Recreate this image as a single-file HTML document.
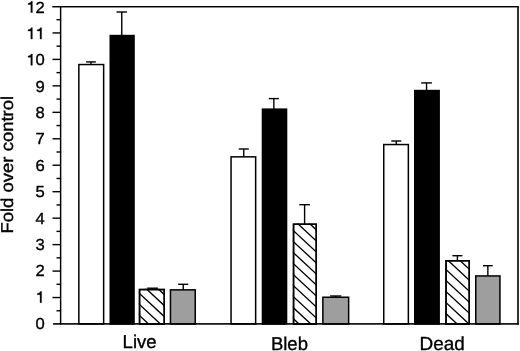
<!DOCTYPE html>
<html><head><meta charset="utf-8"><style>
html,body{margin:0;padding:0;background:#fff;}
body{width:520px;height:351px;overflow:hidden;}
svg{display:block;filter:grayscale(1);}
text{font-family:"Liberation Sans", sans-serif;text-rendering:geometricPrecision;}
</style></head><body>
<svg width="520" height="351" viewBox="0 0 520 351">
<rect width="520" height="351" fill="#fff"/>
<defs>
<clipPath id="c2"><rect x="138.8" y="288.8" width="26.20" height="35.20"/></clipPath>
<clipPath id="c6"><rect x="292.8" y="223.5" width="24.20" height="100.50"/></clipPath>
<clipPath id="c10"><rect x="445.3" y="260.0" width="24.70" height="64.00"/></clipPath>
</defs>
<line x1="90.95" y1="64.80" x2="90.95" y2="61.90" stroke="#000" stroke-width="1.4"/>
<rect x="86.10" y="61.20" width="9.70" height="1.4" fill="#000"/>
<rect x="78.85" y="64.55" width="24.80" height="259.45" fill="#fff" stroke="#000" stroke-width="1.5"/>
<line x1="121.75" y1="35.80" x2="121.75" y2="12.00" stroke="#000" stroke-width="1.4"/>
<rect x="116.50" y="11.30" width="10.50" height="1.4" fill="#000"/>
<rect x="110.25" y="35.55" width="23.80" height="288.45" fill="#000" stroke="#000" stroke-width="1.5"/>
<line x1="152.55" y1="289.80" x2="152.55" y2="288.20" stroke="#000" stroke-width="1.4"/>
<rect x="147.20" y="287.50" width="10.70" height="1.4" fill="#000"/>
<rect x="139.55" y="289.55" width="24.70" height="34.45" fill="#fff" stroke="#000" stroke-width="1.5"/>
<path clip-path="url(#c2)" d="M225.98 285.80L270.28 327.00M214.13 285.80L258.43 327.00M202.28 285.80L246.58 327.00M190.43 285.80L234.73 327.00M178.58 285.80L222.88 327.00M166.73 285.80L211.03 327.00M154.88 285.80L199.18 327.00M143.03 285.80L187.33 327.00M131.18 285.80L175.48 327.00M119.33 285.80L163.63 327.00M107.48 285.80L151.78 327.00M95.63 285.80L139.93 327.00M83.78 285.80L128.08 327.00M71.93 285.80L116.23 327.00M60.08 285.80L104.38 327.00M48.23 285.80L92.53 327.00M36.38 285.80L80.68 327.00M24.53 285.80L68.83 327.00M12.68 285.80L56.98 327.00M0.83 285.80L45.13 327.00" stroke="#000" stroke-width="1.35" fill="none"/>
<rect x="139.55" y="289.55" width="24.70" height="34.45" fill="none" stroke="#000" stroke-width="1.5"/>
<line x1="183.25" y1="290.10" x2="183.25" y2="284.30" stroke="#000" stroke-width="1.4"/>
<rect x="178.20" y="283.60" width="10.10" height="1.4" fill="#000"/>
<rect x="170.45" y="289.85" width="24.80" height="34.15" fill="#9e9e9e" stroke="#000" stroke-width="1.5"/>
<line x1="243.75" y1="157.10" x2="243.75" y2="149.00" stroke="#000" stroke-width="1.4"/>
<rect x="238.70" y="148.30" width="10.10" height="1.4" fill="#000"/>
<rect x="231.05" y="156.85" width="24.60" height="167.15" fill="#fff" stroke="#000" stroke-width="1.5"/>
<line x1="273.85" y1="109.40" x2="273.85" y2="98.60" stroke="#000" stroke-width="1.4"/>
<rect x="268.80" y="97.90" width="10.10" height="1.4" fill="#000"/>
<rect x="262.45" y="109.15" width="24.10" height="214.85" fill="#000" stroke="#000" stroke-width="1.5"/>
<line x1="304.60" y1="224.50" x2="304.60" y2="204.70" stroke="#000" stroke-width="1.4"/>
<rect x="299.30" y="204.00" width="10.60" height="1.4" fill="#000"/>
<rect x="293.55" y="224.25" width="22.70" height="99.75" fill="#fff" stroke="#000" stroke-width="1.5"/>
<path clip-path="url(#c6)" d="M377.31 220.50L491.83 327.00M365.46 220.50L479.98 327.00M353.61 220.50L468.13 327.00M341.76 220.50L456.28 327.00M329.91 220.50L444.43 327.00M318.06 220.50L432.58 327.00M306.21 220.50L420.73 327.00M294.36 220.50L408.88 327.00M282.51 220.50L397.03 327.00M270.66 220.50L385.18 327.00M258.81 220.50L373.33 327.00M246.96 220.50L361.48 327.00M235.11 220.50L349.63 327.00M223.26 220.50L337.78 327.00M211.41 220.50L325.93 327.00M199.56 220.50L314.08 327.00M187.71 220.50L302.23 327.00M175.86 220.50L290.38 327.00M164.01 220.50L278.53 327.00M152.16 220.50L266.68 327.00" stroke="#000" stroke-width="1.35" fill="none"/>
<rect x="293.55" y="224.25" width="22.70" height="99.75" fill="none" stroke="#000" stroke-width="1.5"/>
<line x1="335.70" y1="297.50" x2="335.70" y2="296.00" stroke="#000" stroke-width="1.4"/>
<rect x="330.10" y="295.30" width="11.20" height="1.4" fill="#000"/>
<rect x="322.85" y="297.25" width="25.80" height="26.75" fill="#9e9e9e" stroke="#000" stroke-width="1.5"/>
<line x1="396.30" y1="144.80" x2="396.30" y2="141.00" stroke="#000" stroke-width="1.4"/>
<rect x="391.30" y="140.30" width="10.00" height="1.4" fill="#000"/>
<rect x="383.75" y="144.55" width="24.60" height="179.45" fill="#fff" stroke="#000" stroke-width="1.5"/>
<line x1="426.55" y1="90.80" x2="426.55" y2="82.90" stroke="#000" stroke-width="1.4"/>
<rect x="421.20" y="82.20" width="10.70" height="1.4" fill="#000"/>
<rect x="414.75" y="90.55" width="24.40" height="233.45" fill="#000" stroke="#000" stroke-width="1.5"/>
<line x1="457.40" y1="261.00" x2="457.40" y2="255.70" stroke="#000" stroke-width="1.4"/>
<rect x="452.40" y="255.00" width="10.00" height="1.4" fill="#000"/>
<rect x="446.05" y="260.75" width="23.20" height="63.25" fill="#fff" stroke="#000" stroke-width="1.5"/>
<path clip-path="url(#c10)" d="M527.30 257.00L602.57 327.00M515.45 257.00L590.72 327.00M503.60 257.00L578.87 327.00M491.75 257.00L567.02 327.00M479.90 257.00L555.17 327.00M468.05 257.00L543.32 327.00M456.20 257.00L531.47 327.00M444.35 257.00L519.62 327.00M432.50 257.00L507.77 327.00M420.65 257.00L495.92 327.00M408.80 257.00L484.07 327.00M396.95 257.00L472.22 327.00M385.10 257.00L460.37 327.00M373.25 257.00L448.52 327.00M361.40 257.00L436.67 327.00M349.55 257.00L424.82 327.00M337.70 257.00L412.97 327.00M325.85 257.00L401.12 327.00M314.00 257.00L389.27 327.00M302.15 257.00L377.42 327.00" stroke="#000" stroke-width="1.35" fill="none"/>
<rect x="446.05" y="260.75" width="23.20" height="63.25" fill="none" stroke="#000" stroke-width="1.5"/>
<line x1="487.85" y1="276.20" x2="487.85" y2="265.70" stroke="#000" stroke-width="1.4"/>
<rect x="483.00" y="265.00" width="9.70" height="1.4" fill="#000"/>
<rect x="475.75" y="275.95" width="24.20" height="48.05" fill="#9e9e9e" stroke="#000" stroke-width="1.5"/>
<rect x="52.3" y="6.0" width="466.5" height="1.45" fill="#000"/>
<rect x="59.9" y="6.0" width="1.45" height="318.6" fill="#000"/>
<rect x="517.2" y="6.0" width="1.6" height="318.6" fill="#000"/>
<rect x="53.1" y="323.1" width="465.7" height="1.6" fill="#000"/>
<rect x="52.5" y="296.84" width="7.8" height="1.4" fill="#000"/>
<rect x="52.5" y="270.38" width="7.8" height="1.4" fill="#000"/>
<rect x="52.5" y="243.92" width="7.8" height="1.4" fill="#000"/>
<rect x="52.5" y="217.46" width="7.8" height="1.4" fill="#000"/>
<rect x="52.5" y="191.00" width="7.8" height="1.4" fill="#000"/>
<rect x="52.5" y="164.54" width="7.8" height="1.4" fill="#000"/>
<rect x="52.5" y="138.08" width="7.8" height="1.4" fill="#000"/>
<rect x="52.5" y="111.62" width="7.8" height="1.4" fill="#000"/>
<rect x="52.5" y="85.16" width="7.8" height="1.4" fill="#000"/>
<rect x="52.5" y="58.70" width="7.8" height="1.4" fill="#000"/>
<rect x="52.5" y="32.24" width="7.8" height="1.4" fill="#000"/>
<rect x="56.5" y="310.07" width="3.8" height="1.4" fill="#000"/>
<rect x="56.5" y="283.61" width="3.8" height="1.4" fill="#000"/>
<rect x="56.5" y="257.15" width="3.8" height="1.4" fill="#000"/>
<rect x="56.5" y="230.69" width="3.8" height="1.4" fill="#000"/>
<rect x="56.5" y="204.23" width="3.8" height="1.4" fill="#000"/>
<rect x="56.5" y="177.77" width="3.8" height="1.4" fill="#000"/>
<rect x="56.5" y="151.31" width="3.8" height="1.4" fill="#000"/>
<rect x="56.5" y="124.85" width="3.8" height="1.4" fill="#000"/>
<rect x="56.5" y="98.39" width="3.8" height="1.4" fill="#000"/>
<rect x="56.5" y="71.93" width="3.8" height="1.4" fill="#000"/>
<rect x="56.5" y="45.47" width="3.8" height="1.4" fill="#000"/>
<rect x="56.5" y="19.01" width="3.8" height="1.4" fill="#000"/>
<text transform="translate(35.62 329.03) scale(1.0375 1)" font-family="'Liberation Sans', sans-serif" font-size="16.0" stroke="#000" stroke-width="0.35">0</text>
<path d="M41.58 302.66L41.58 291.41L40.43 291.41C40.10 292.58 39.27 293.22 37.30 293.38L37.30 294.66L40.07 294.66L40.07 302.66Z" fill="#000" stroke="#000" stroke-width="0.35"/>
<text transform="translate(35.62 276.29) scale(1.0375 1)" font-family="'Liberation Sans', sans-serif" font-size="16.0" stroke="#000" stroke-width="0.35">2</text>
<text transform="translate(35.62 249.92) scale(1.0375 1)" font-family="'Liberation Sans', sans-serif" font-size="16.0" stroke="#000" stroke-width="0.35">3</text>
<text transform="translate(35.62 223.55) scale(1.0375 1)" font-family="'Liberation Sans', sans-serif" font-size="16.0" stroke="#000" stroke-width="0.35">4</text>
<text transform="translate(35.62 197.18) scale(1.0375 1)" font-family="'Liberation Sans', sans-serif" font-size="16.0" stroke="#000" stroke-width="0.35">5</text>
<text transform="translate(35.62 170.81) scale(1.0375 1)" font-family="'Liberation Sans', sans-serif" font-size="16.0" stroke="#000" stroke-width="0.35">6</text>
<text transform="translate(35.62 144.44) scale(1.0375 1)" font-family="'Liberation Sans', sans-serif" font-size="16.0" stroke="#000" stroke-width="0.35">7</text>
<text transform="translate(35.62 118.07) scale(1.0375 1)" font-family="'Liberation Sans', sans-serif" font-size="16.0" stroke="#000" stroke-width="0.35">8</text>
<text transform="translate(35.62 91.70) scale(1.0375 1)" font-family="'Liberation Sans', sans-serif" font-size="16.0" stroke="#000" stroke-width="0.35">9</text>
<path d="M32.35 65.33L32.35 54.08L31.20 54.08C30.87 55.25 30.04 55.89 28.07 56.05L28.07 57.33L30.84 57.33L30.84 65.33Z" fill="#000" stroke="#000" stroke-width="0.35"/>
<text transform="translate(35.62 65.33) scale(1.0375 1)" font-family="'Liberation Sans', sans-serif" font-size="16.0" stroke="#000" stroke-width="0.35">0</text>
<path d="M32.35 38.96L32.35 27.71L31.20 27.71C30.87 28.88 30.04 29.52 28.07 29.68L28.07 30.96L30.84 30.96L30.84 38.96Z" fill="#000" stroke="#000" stroke-width="0.35"/>
<path d="M41.58 38.96L41.58 27.71L40.43 27.71C40.10 28.88 39.27 29.52 37.30 29.68L37.30 30.96L40.07 30.96L40.07 38.96Z" fill="#000" stroke="#000" stroke-width="0.35"/>
<path d="M32.35 12.59L32.35 1.34L31.20 1.34C30.87 2.51 30.04 3.15 28.07 3.31L28.07 4.59L30.84 4.59L30.84 12.59Z" fill="#000" stroke="#000" stroke-width="0.35"/>
<text transform="translate(35.62 12.59) scale(1.0375 1)" font-family="'Liberation Sans', sans-serif" font-size="16.0" stroke="#000" stroke-width="0.35">2</text>
<text transform="translate(13.3 233.6) rotate(-90) scale(1.076 1)" font-family="'Liberation Sans', sans-serif" font-size="17.2" stroke="#000" stroke-width="0.35">Fold over control</text>
<text x="122.6" y="348.0" font-family="'Liberation Sans', sans-serif" font-size="18.5" stroke="#000" stroke-width="0.35">Live</text>
<text x="270.9" y="349.7" font-family="'Liberation Sans', sans-serif" font-size="18.5" stroke="#000" stroke-width="0.35">Bleb</text>
<text x="419.6" y="349.8" font-family="'Liberation Sans', sans-serif" font-size="18.9" stroke="#000" stroke-width="0.35">Dead</text>
</svg>
</body></html>
